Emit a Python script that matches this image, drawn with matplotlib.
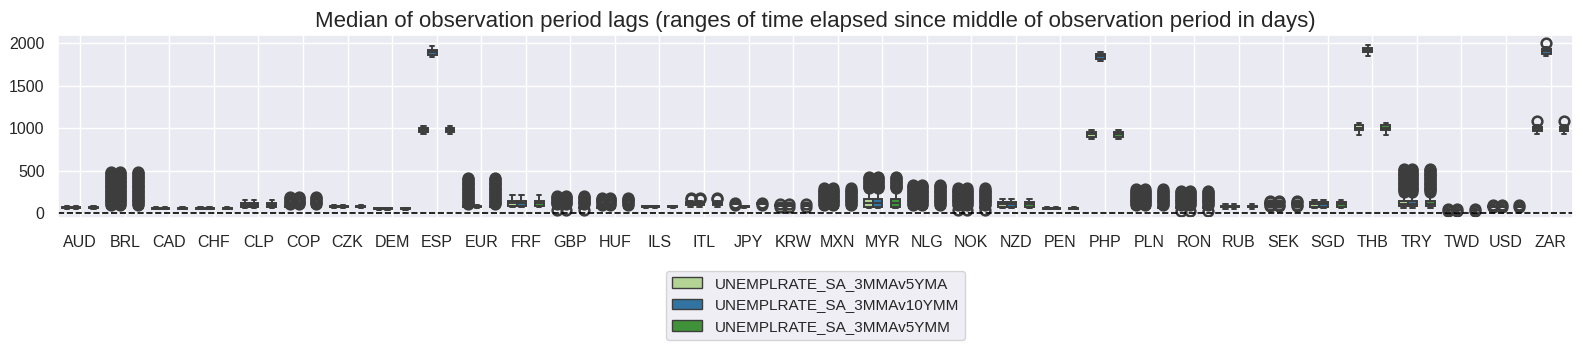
import matplotlib
matplotlib.use("Agg")
import matplotlib.pyplot as plt
from matplotlib.patches import Patch
import seaborn as sns

sns.set_theme(style="darkgrid")
plt.rcParams["font.family"] = ["Liberation Sans", "DejaVu Sans"]

currencies = ["AUD", "BRL", "CAD", "CHF", "CLP", "COP", "CZK", "DEM", "ESP", "EUR",
              "FRF", "GBP", "HUF", "ILS", "ITL", "JPY", "KRW", "MXN", "MYR", "NLG",
              "NOK", "NZD", "PEN", "PHP", "PLN", "RON", "RUB", "SEK", "SGD", "THB",
              "TRY", "TWD", "USD", "ZAR"]
series = ["UNEMPLRATE_SA_3MMAv5YMA", "UNEMPLRATE_SA_3MMAv10YMM", "UNEMPLRATE_SA_3MMAv5YMM"]
palette = ["#b2df8a", "#1f78b4", "#33a02c"]
# hue slots used out of four (the third slot is empty on the chart)
slots = [0, 1, 3]

# (whisker low, q1, median, q3, whisker high) in days, 5-year windows
box_5y = {
    "AUD": (45, 55, 60, 68, 80), "BRL": (55, 62, 68, 75, 85),
    "CAD": (42, 50, 55, 60, 68), "CHF": (42, 50, 55, 60, 68),
    "CLP": (60, 75, 98, 120, 155), "COP": (60, 68, 75, 82, 90),
    "CZK": (62, 70, 75, 82, 90), "DEM": (35, 42, 48, 53, 60),
    "ESP": (925, 949, 976, 1003, 1023), "EUR": (60, 68, 75, 82, 90),
    "FRF": (67, 86, 114, 141, 212), "GBP": (45, 55, 62, 70, 85),
    "HUF": (55, 62, 68, 75, 85), "ILS": (62, 70, 75, 80, 88),
    "ITL": (75, 90, 110, 125, 140), "JPY": (100, 105, 110, 115, 118),
    "KRW": (80, 85, 90, 95, 100), "MXN": (55, 62, 68, 75, 85),
    "MYR": (60, 75, 120, 170, 250), "NLG": (55, 62, 68, 75, 85),
    "NOK": (50, 58, 65, 72, 85), "NZD": (59, 74, 106, 133, 165),
    "PEN": (45, 52, 58, 64, 72), "PHP": (867, 898, 925, 953, 976),
    "PLN": (55, 62, 68, 75, 85), "RON": (50, 58, 65, 72, 85),
    "RUB": (50, 65, 75, 85, 100), "SEK": (98, 105, 114, 122, 128),
    "SGD": (59, 74, 106, 133, 153), "THB": (917, 976, 1003, 1032, 1055),
    "TRY": (60, 82, 110, 140, 220), "TWD": (28, 32, 36, 40, 44),
    "USD": (70, 75, 80, 85, 90), "ZAR": (925, 959, 988, 1017, 1035),
}
fliers_5y = {
    "BRL": [95, 110, 125, 140, 155, 170, 185, 200, 215, 230, 245, 260, 275, 290, 305,
            320, 335, 350, 365, 380, 395, 410, 425, 440, 455, 470, 485],
    "COP": [100, 115, 130, 145, 160, 175, 190],
    "EUR": [100, 115, 130, 145, 160, 175, 190, 205, 220, 235, 250, 265, 280, 295, 310,
            325, 340, 355, 370, 385, 400, 410],
    "GBP": [30, 100, 115, 130, 145, 160, 175, 190, 200],
    "HUF": [95, 110, 125, 140, 155, 170, 180],
    "ITL": [160, 175],
    "JPY": [98, 122],
    "KRW": [70, 110],
    "MXN": [95, 110, 125, 140, 155, 170, 185, 200, 215, 230, 245, 260, 275, 290],
    "MYR": [290, 305, 320, 335, 350, 365, 380, 395, 410, 420],
    "NLG": [95, 110, 125, 140, 155, 170, 185, 200, 215, 230, 245, 260, 275, 290, 305,
            320, 330],
    "NOK": [30, 95, 110, 125, 140, 155, 170, 185, 200, 215, 230, 245, 260, 275, 295],
    "PLN": [95, 110, 125, 140, 155, 170, 185, 200, 215, 230, 245, 260, 280],
    "RON": [25, 95, 110, 125, 140, 155, 170, 185, 200, 215, 230, 245, 260],
    "SEK": [88, 92, 135, 138],
    "TRY": [250, 265, 280, 295, 310, 325, 340, 355, 370, 385, 400, 415, 430, 445, 460,
            475, 490, 505, 515],
    "TWD": [20, 52],
    "USD": [65, 98],
    "ZAR": [1086],
}
# 10-year window where it differs from the 5-year one
box_10y = {
    "ESP": (1838, 1862, 1890, 1917, 1964), "EUR": (60, 68, 75, 82, 90),
    "JPY": (62, 70, 75, 80, 88), "PHP": (1791, 1815, 1843, 1871, 1890),
    "THB": (1850, 1890, 1920, 1945, 1976), "ZAR": (1846, 1874, 1901, 1929, 1949),
}
fliers_10y = {"ESP": [], "EUR": [], "JPY": [], "PHP": [], "THB": [], "ZAR": [1995]}


def stats_for(cur, which):
    if which == 1 and cur in box_10y:
        b, fl = box_10y[cur], fliers_10y[cur]
    else:
        b, fl = box_5y[cur], fliers_5y.get(cur, [])
    return dict(whislo=b[0], q1=b[1], med=b[2], q3=b[3], whishi=b[4], fliers=fl)


fig = plt.figure(figsize=(15.83, 3.53), dpi=100)
ax = fig.add_axes([0.0366, 0.3824, 0.957, 0.5184])

line = "#3d3d3d"
w = 0.8 / 4
for j in range(len(series)):
    col = sns.desaturate(palette[j], 0.75)
    stats = [stats_for(c, j) for c in currencies]
    pos = [i - 0.4 + w * (slots[j] + 0.5) for i in range(len(currencies))]
    ax.bxp(stats, positions=pos, widths=w, capwidths=w * 0.5, patch_artist=True,
           manage_ticks=False,
           boxprops=dict(facecolor=col, edgecolor=line, linewidth=1.4),
           medianprops=dict(color=line, linewidth=1.4),
           whiskerprops=dict(color=line, linewidth=1.4),
           capprops=dict(color=line, linewidth=1.4),
           flierprops=dict(marker="o", markersize=7, markerfacecolor="none",
                           markeredgecolor=line, markeredgewidth=1.8))

ax.axhline(0, color="black", linestyle="--", linewidth=1.2)
ax.set_xticks(range(len(currencies)))
ax.set_xticklabels(currencies)
ax.set_xlim(-0.5, len(currencies) - 0.5)
ax.set_ylim(-59, 2094)
ax.set_yticks([0, 500, 1000, 1500, 2000])
ax.tick_params(axis="x", labelsize=11.5, pad=6)
ax.tick_params(axis="y", labelsize=11.5)
ax.set_title("Median of observation period lags (ranges of time elapsed since middle of observation period in days)",
             fontsize=16)

handles = [Patch(facecolor=sns.desaturate(p, 0.75), edgecolor=line, label=s)
           for p, s in zip(palette, series)]
fig.legend(handles=handles, loc="upper center", bbox_to_anchor=(0.515, 0.255),
           fontsize=11, ncol=1)

fig.savefig("out.png", dpi=100)
